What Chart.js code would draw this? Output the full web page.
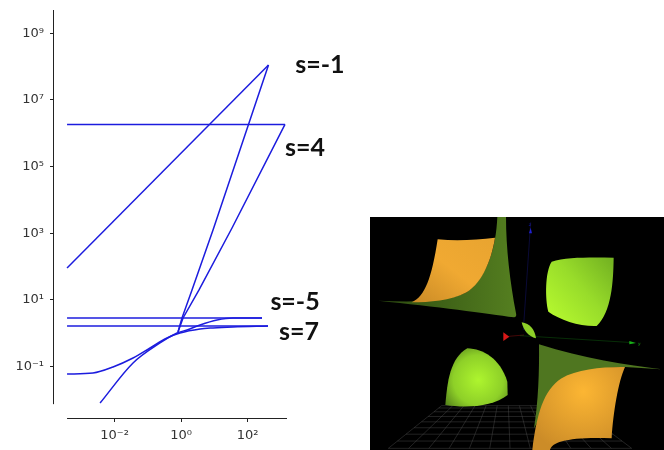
<!DOCTYPE html>
<html>
<head>
<meta charset="utf-8">
<script src="https://cdn.jsdelivr.net/npm/chart.js@4"></script>
<style>
    html, body { margin: 0; padding: 0; background: #fff; }
    #wrap { position: relative; width: 664px; height: 450px; overflow: hidden; }
    #myChart { position: absolute; left: 0; top: 0; }
    #surface { position: absolute; left: 370px; top: 215px; }
</style>
</head>
<body>
<div id="wrap">
    <canvas id="myChart" width="664" height="450"></canvas>

    <!-- the 3D surface picture on the lower right, not chart data -->
    <svg id="surface" width="294" height="235" viewBox="0 0 882 705">
        <defs>
            <linearGradient id="orangeTop" x1="0" y1="1" x2="1" y2="0">
                <stop offset="0" stop-color="#c98a26"/>
                <stop offset="0.5" stop-color="#f0a932"/>
                <stop offset="1" stop-color="#e8a430"/>
            </linearGradient>
            <radialGradient id="orangeBottom" gradientUnits="userSpaceOnUse" cx="640" cy="530" r="190">
                <stop offset="0" stop-color="#fcb633"/>
                <stop offset="1" stop-color="#cc8c28"/>
            </radialGradient>
            <linearGradient id="darkTop" x1="0" y1="0" x2="1" y2="0">
                <stop offset="0" stop-color="#2c4a10"/>
                <stop offset="1" stop-color="#557f20"/>
            </linearGradient>
            <linearGradient id="greenRight" gradientUnits="userSpaceOnUse" x1="545" y1="290" x2="720" y2="140">
                <stop offset="0" stop-color="#b2f52e"/>
                <stop offset="0.5" stop-color="#98dc2a"/>
                <stop offset="1" stop-color="#76b522"/>
            </linearGradient>
            <radialGradient id="greenLeft" gradientUnits="userSpaceOnUse" cx="325" cy="495" r="125">
                <stop offset="0" stop-color="#aef52e"/>
                <stop offset="0.6" stop-color="#8ed028"/>
                <stop offset="1" stop-color="#527f1a"/>
            </radialGradient>
        </defs>
        <rect x="0" y="6" width="882" height="699" fill="#000"/>
        <g id="floor" stroke="#5a5a5a" stroke-opacity="0.75" stroke-width="1.5"></g>

        <path d="M25,257 C200,275 350,295 432,307 Q441,306 438,295 C420,200 408,100 408,6 L382,6 C378,100 350,190 290,232 C230,262 120,262 25,257 Z" fill="url(#darkTop)"/>
        <path d="M125,262 C165,245 185,190 203,73 C260,78 320,75 375,68 C365,130 340,200 290,232 C240,258 180,262 125,262 Z" fill="url(#orangeTop)"/>

        <path d="M507,388 C640,430 770,450 875,463 L765,456 L700,460 L560,520 L492,640 C505,560 508,470 507,388 Z" fill="#4f7620"/>
        <path d="M765,456 C700,455 620,462 575,490 C520,525 500,600 487,705 L540,705 C545,680 600,665 725,670 C730,590 745,500 765,456 Z" fill="url(#orangeBottom)"/>

        <path d="M545,140 C590,125 670,128 731,128 C730,200 725,290 680,333 C630,335 570,315 535,290 C525,250 525,170 545,140 Z" fill="url(#greenRight)"/>
        <path d="M292,400 C340,402 390,430 412,500 L413,540 C370,575 290,580 226,570 C232,500 240,430 292,400 Z" fill="url(#greenLeft)"/>

        <line x1="460" y1="345" x2="482" y2="22" stroke="#14146e" stroke-width="1.5"/>
        <path d="M477,55 L482,38 L486,55 Z" fill="#2020d0"/>
        <text x="477" y="32" fill="#2020c0" font-family="DejaVu Sans" font-size="13">z</text>
        <line x1="405" y1="365" x2="462" y2="360" stroke="#8a1010" stroke-width="1.5"/>
        <path d="M400,352 L400,378 L418,365 Z" fill="#d81818"/>
        <line x1="450" y1="362" x2="790" y2="383" stroke="#0f5a0f" stroke-width="1.5"/>
        <path d="M778,378 L798,384 L778,388 Z" fill="#18b018"/>
        <text x="804" y="390" fill="#18a018" font-family="DejaVu Sans" font-size="13">y</text>
        <path d="M455,322 C480,325 495,345 498,370 C475,365 460,345 455,322 Z" fill="#8ed028"/>
    </svg>
</div>

<script>
// values, x and y are both log axes
const xTicks = [0.01, 1, 100];
const xTickLabels = ["10⁻²", "10⁰", "10²"];
const yTicks = [0.1, 10, 1000, 100000, 10000000, 1000000000];
const yTickLabels = ["10⁻¹", "10¹", "10³", "10⁵", "10⁷", "10⁹"];

// s=-1: straight line up to the peak, then the branch back down to (1,1)
const sMinus1UpX = [0.000373, 428];
const sMinus1UpY = [91, 1.12e8];
const sMinus1BackX = [0.81, 1.07, 2.14, 9.17, 428];
const sMinus1BackY = [1.10, 2.88, 20, 1259, 1.12e8];

// s=4: flat line, then the branch back down
const s4FlatX = [0.000373, 1342];
const s4FlatY = [1.85e6, 1.85e6];
const s4BackX = [0.81, 1.15, 3.48, 34.2, 1342];
const s4BackY = [1.10, 2.88, 20, 1445, 1.85e6];

// s=-5: flat line and the curved branch
const sMinus5FlatX = [0.000373, 273];
const sMinus5FlatY = [2.88, 2.88];
const sMinus5CurveX = [0.00367, 0.036, 0.233, 0.76, 1.52, 3.73, 12.1, 36.6, 273];
const sMinus5CurveY = [0.0081, 0.129, 0.513, 1.02, 1.26, 1.78, 2.51, 2.88, 2.88];

// s=7: flat line and the curved branch
const s7FlatX = [0.000373, 414];
const s7FlatY = [1.66, 1.66];
const s7CurveX = [0.000373, 0.00225, 0.009, 0.036, 0.117, 0.379, 0.93, 3.73, 9.17, 36.6, 414];
const s7CurveY = [0.060, 0.0646, 0.098, 0.182, 0.363, 0.724, 1.02, 1.35, 1.45, 1.55, 1.66];

const curveLabels = ["s=-1", "s=4", "s=-5", "s=7"];
const labelX = [15100, 5370, 2690, 3540];
const labelY = [1.12e8, 3.6e5, 8.7, 1.1];

// limits of the axes and where the two spines stop
const xMin = 0.000151, xMax = 1542;
const yMin = 0.00288, yMax = 5e9;
const xSpineStart = 0.000373;
const ySpineStart = 0.0075;

const lineColor = "rgb(28, 28, 222)";

function toPoints(xs, ys) {
    return xs.map((x, i) => ({ x: x, y: ys[i] }));
}

function lineSet(xs, ys, smooth) {
    return {
        data: toPoints(xs, ys),
        borderColor: lineColor,
        borderWidth: 1.5,
        pointRadius: 0,
        showLine: true,
        cubicInterpolationMode: smooth ? "monotone" : "default",
        tension: 0,
        clip: false
    };
}

// matplotlib style detached spines and the bold s= labels
const extras = {
    id: "extras",
    afterDraw(chart) {
        const ctx = chart.ctx;
        const xs = chart.scales.x;
        const ys = chart.scales.y;
        ctx.save();
        ctx.strokeStyle = "#222";
        ctx.lineWidth = 1;
        ctx.beginPath();
        ctx.moveTo(chart.chartArea.left - 0.5, chart.chartArea.top);
        ctx.lineTo(chart.chartArea.left - 0.5, ys.getPixelForValue(ySpineStart));
        ctx.moveTo(xs.getPixelForValue(xSpineStart), chart.chartArea.bottom + 0.5);
        ctx.lineTo(chart.chartArea.right, chart.chartArea.bottom + 0.5);
        ctx.stroke();

        ctx.fillStyle = "#111";
        ctx.font = "bold 25px Lato";
        ctx.textAlign = "center";
        ctx.textBaseline = "middle";
        curveLabels.forEach((t, i) => {
            ctx.fillText(t, xs.getPixelForValue(labelX[i]), ys.getPixelForValue(labelY[i]));
        });
        ctx.restore();
    }
};

const tickFont = { family: "DejaVu Sans", size: 13 };

new Chart(document.getElementById("myChart"), {
    type: "scatter",
    data: {
        datasets: [
            lineSet(sMinus1UpX, sMinus1UpY, false),
            lineSet(sMinus1BackX, sMinus1BackY, false),
            lineSet(s4FlatX, s4FlatY, false),
            lineSet(s4BackX, s4BackY, false),
            lineSet(sMinus5FlatX, sMinus5FlatY, false),
            lineSet(sMinus5CurveX, sMinus5CurveY, true),
            lineSet(s7FlatX, s7FlatY, false),
            lineSet(s7CurveX, s7CurveY, true)
        ]
    },
    options: {
        responsive: false,
        animation: false,
        layout: { padding: { left: 0, right: 377, top: 10, bottom: 0 } },
        plugins: { legend: { display: false }, tooltip: { enabled: false } },
        scales: {
            x: {
                type: "logarithmic",
                min: xMin,
                max: xMax,
                border: { display: false },
                grid: { drawOnChartArea: false, drawTicks: true, tickLength: 4, tickColor: "#222" },
                afterBuildTicks(scale) {
                    scale.ticks = xTicks.map(v => ({ value: v }));
                },
                afterFit(scale) {
                    scale.height = 32;
                    scale.paddingLeft = 0;
                    scale.paddingRight = 0;
                },
                ticks: {
                    autoSkip: false,
                    maxRotation: 0,
                    color: "#333",
                    font: tickFont,
                    padding: 6,
                    callback: (v, i) => xTickLabels[i]
                }
            },
            y: {
                type: "logarithmic",
                min: yMin,
                max: yMax,
                border: { display: false },
                grid: { drawOnChartArea: false, drawTicks: true, tickLength: 4, tickColor: "#222" },
                afterBuildTicks(scale) {
                    scale.ticks = yTicks.map(v => ({ value: v }));
                },
                afterFit(scale) {
                    scale.width = 54;
                    scale.paddingTop = 0;
                    scale.paddingBottom = 0;
                },
                ticks: {
                    autoSkip: false,
                    color: "#333",
                    font: tickFont,
                    padding: 6,
                    callback: (v, i) => yTickLabels[i]
                }
            }
        }
    },
    plugins: [extras]
});

// perspective floor grid behind the surfaces
const floor = document.getElementById("floor");
function floorLine(x1, y1, x2, y2) {
    const l = document.createElementNS("http://www.w3.org/2000/svg", "line");
    l.setAttribute("x1", x1); l.setAttribute("y1", y1);
    l.setAttribute("x2", x2); l.setAttribute("y2", y2);
    floor.appendChild(l);
}
for (let i = 0; i <= 12; i++) {
    const t = i / 12;
    floorLine(215 + t * 400, 572, 55 + t * 730, 700);
}
for (let i = 0; i <= 8; i++) {
    const t = Math.pow(i / 8, 1.4);
    floorLine(215 - t * 160, 572 + t * 128, 615 + t * 170, 572 + t * 128);
}
</script>
</body>
</html>
